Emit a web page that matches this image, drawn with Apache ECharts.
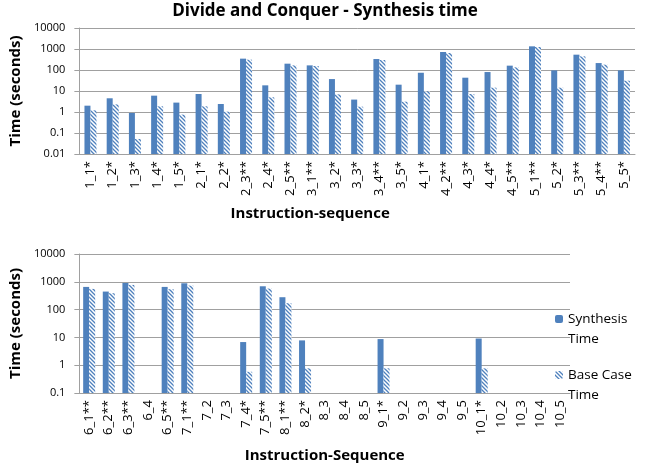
<!DOCTYPE html>
<html><head><meta charset="utf-8">
<script src="https://cdn.jsdelivr.net/npm/echarts@6/dist/echarts.min.js"></script>
<style>html,body{margin:0;padding:0;background:#fff}#c{width:650px;height:467px}</style>
</head><body><div id="c"></div>
<script>
const titleText = 'Divide and Conquer - Synthesis time';
const topCategories = ['1_1*','1_2*','1_3*','1_4*','1_5*','2_1*','2_2*','2_3**','2_4*','2_5**','3_1**','3_2*','3_3*','3_4**','3_5*','4_1*','4_2**','4_3*','4_4*','4_5**','5_1**','5_2*','5_3**','5_4**','5_5*'];
const topSynthesis = [2.0,4.5,0.9,6.0,2.8,7.2,2.4,347,18.6,200,166,37,3.9,333,20,74,720,43,80,161,1340,96,537,214,96];
const topBaseCase = [1.2,2.3,0.052,1.86,0.75,1.86,1.04,310,5.0,166,155,6.9,1.79,299,3.1,9.6,645,7.2,14.4,134,1245,14.4,447,180,31];
const bottomCategories = ['6_1**','6_2**','6_3**','6_4','6_5**','7_1**','7_2','7_3','7_4*','7_5**','8_1**','8_2*','8_3','8_4','8_5','9_1*','9_2','9_3','9_4','9_5','10_1*','10_2','10_3','10_4','10_5'];
const bottomSynthesis = [655,445,910,null,655,885,null,null,6.8,690,279,7.8,null,null,null,8.7,null,null,null,null,9.1,null,null,null,null];
const bottomBaseCase = [555,388,772,null,540,730,null,null,0.58,570,170,0.77,null,null,null,0.77,null,null,null,null,0.77,null,null,null,null];
const seriesNames = ['Synthesis Time','Base Case Time'];

const FONT = 'Open Sans';
const blue = '#4F81BD';
const grid = '#a0a0a0';

function hatch(){
  const s = 4, c = document.createElement('canvas');
  c.width = s; c.height = s;
  const g = c.getContext('2d');
  g.fillStyle = '#fff'; g.fillRect(0,0,s,s);
  g.strokeStyle = blue; g.lineWidth = 1.3;
  g.beginPath();
  g.moveTo(-1,-1); g.lineTo(s+1,s+1);
  g.moveTo(-1,s-1); g.lineTo(1,s+1);
  g.moveTo(s-1,-1); g.lineTo(s+1,1);
  g.stroke();
  return {image: c, repeat: 'repeat'};
}
const hatchFill = hatch();

function xAxis(idx, cats, name, gap, pad){
  return {
    type:'category', gridIndex: idx, data: cats,
    axisTick:{show:false},
    axisLine:{lineStyle:{color:grid, width:1}},
    axisLabel:{rotate:90, interval:0, margin:7, fontFamily:FONT, fontSize:13, color:'#000'},
    name: name, nameLocation:'middle', nameGap: gap,
    nameTextStyle:{fontFamily:FONT, fontWeight:'bold', fontSize:15, color:'#000', padding:pad}
  };
}
function yAxis(idx, min){
  return {
    type:'log', gridIndex: idx, logBase:10, min:min, max:10000, startValue:min,
    axisLine:{show:true, lineStyle:{color:grid}},
    axisTick:{show:true, length:5, lineStyle:{color:grid}},
    splitLine:{lineStyle:{color:grid, width:1}},
    axisLabel:{fontFamily:FONT, fontSize:11, color:'#000', margin:14,
      formatter: v => String(+v.toPrecision(3))},
    name:'Time (seconds)', nameLocation:'middle', nameGap:51, nameRotate:90,
    nameTextStyle:{fontFamily:FONT, fontWeight:'bold', fontSize:15, color:'#000'}
  };
}

const chart = echarts.init(document.getElementById('c'), null, {renderer:'canvas'});
chart.setOption({
  animation:false,
  title:{text:titleText, left:'center', top:-2, textStyle:{fontFamily:FONT, fontWeight:'bold', fontSize:17, color:'#000'}},
  legend:{
    data: seriesNames, orient:'vertical', left:555, top:289, padding:0, itemWidth:8, itemHeight:8, itemGap:-4,
    formatter: n => ' \n' + n.replace(/ Time$/, '\nTime'),
    textStyle:{fontFamily:FONT, fontSize:13.5, color:'#000', lineHeight:20}
  },
  grid:[
    {left:77, right:15, top:28, bottom:313},
    {left:77, right:80, top:254, bottom:74}
  ],
  xAxis:[ xAxis(0, topCategories, 'Instruction-sequence', 52, [0,94,0,0]),
          xAxis(1, bottomCategories, 'Instruction-Sequence', 55, 0) ],
  yAxis:[ yAxis(0, 0.01), yAxis(1, 0.1) ],
  series:[
    {name:seriesNames[0], type:'bar', xAxisIndex:0, yAxisIndex:0, data:topSynthesis, barWidth:6, barGap:'0%', itemStyle:{color:blue}},
    {name:seriesNames[1], type:'bar', xAxisIndex:0, yAxisIndex:0, data:topBaseCase, barWidth:6, barGap:'0%', itemStyle:{color:hatchFill}},
    {name:seriesNames[0], type:'bar', xAxisIndex:1, yAxisIndex:1, data:bottomSynthesis, barWidth:6, barGap:'0%', itemStyle:{color:blue}},
    {name:seriesNames[1], type:'bar', xAxisIndex:1, yAxisIndex:1, data:bottomBaseCase, barWidth:6, barGap:'0%', itemStyle:{color:hatchFill}}
  ]
});
</script></body></html>
